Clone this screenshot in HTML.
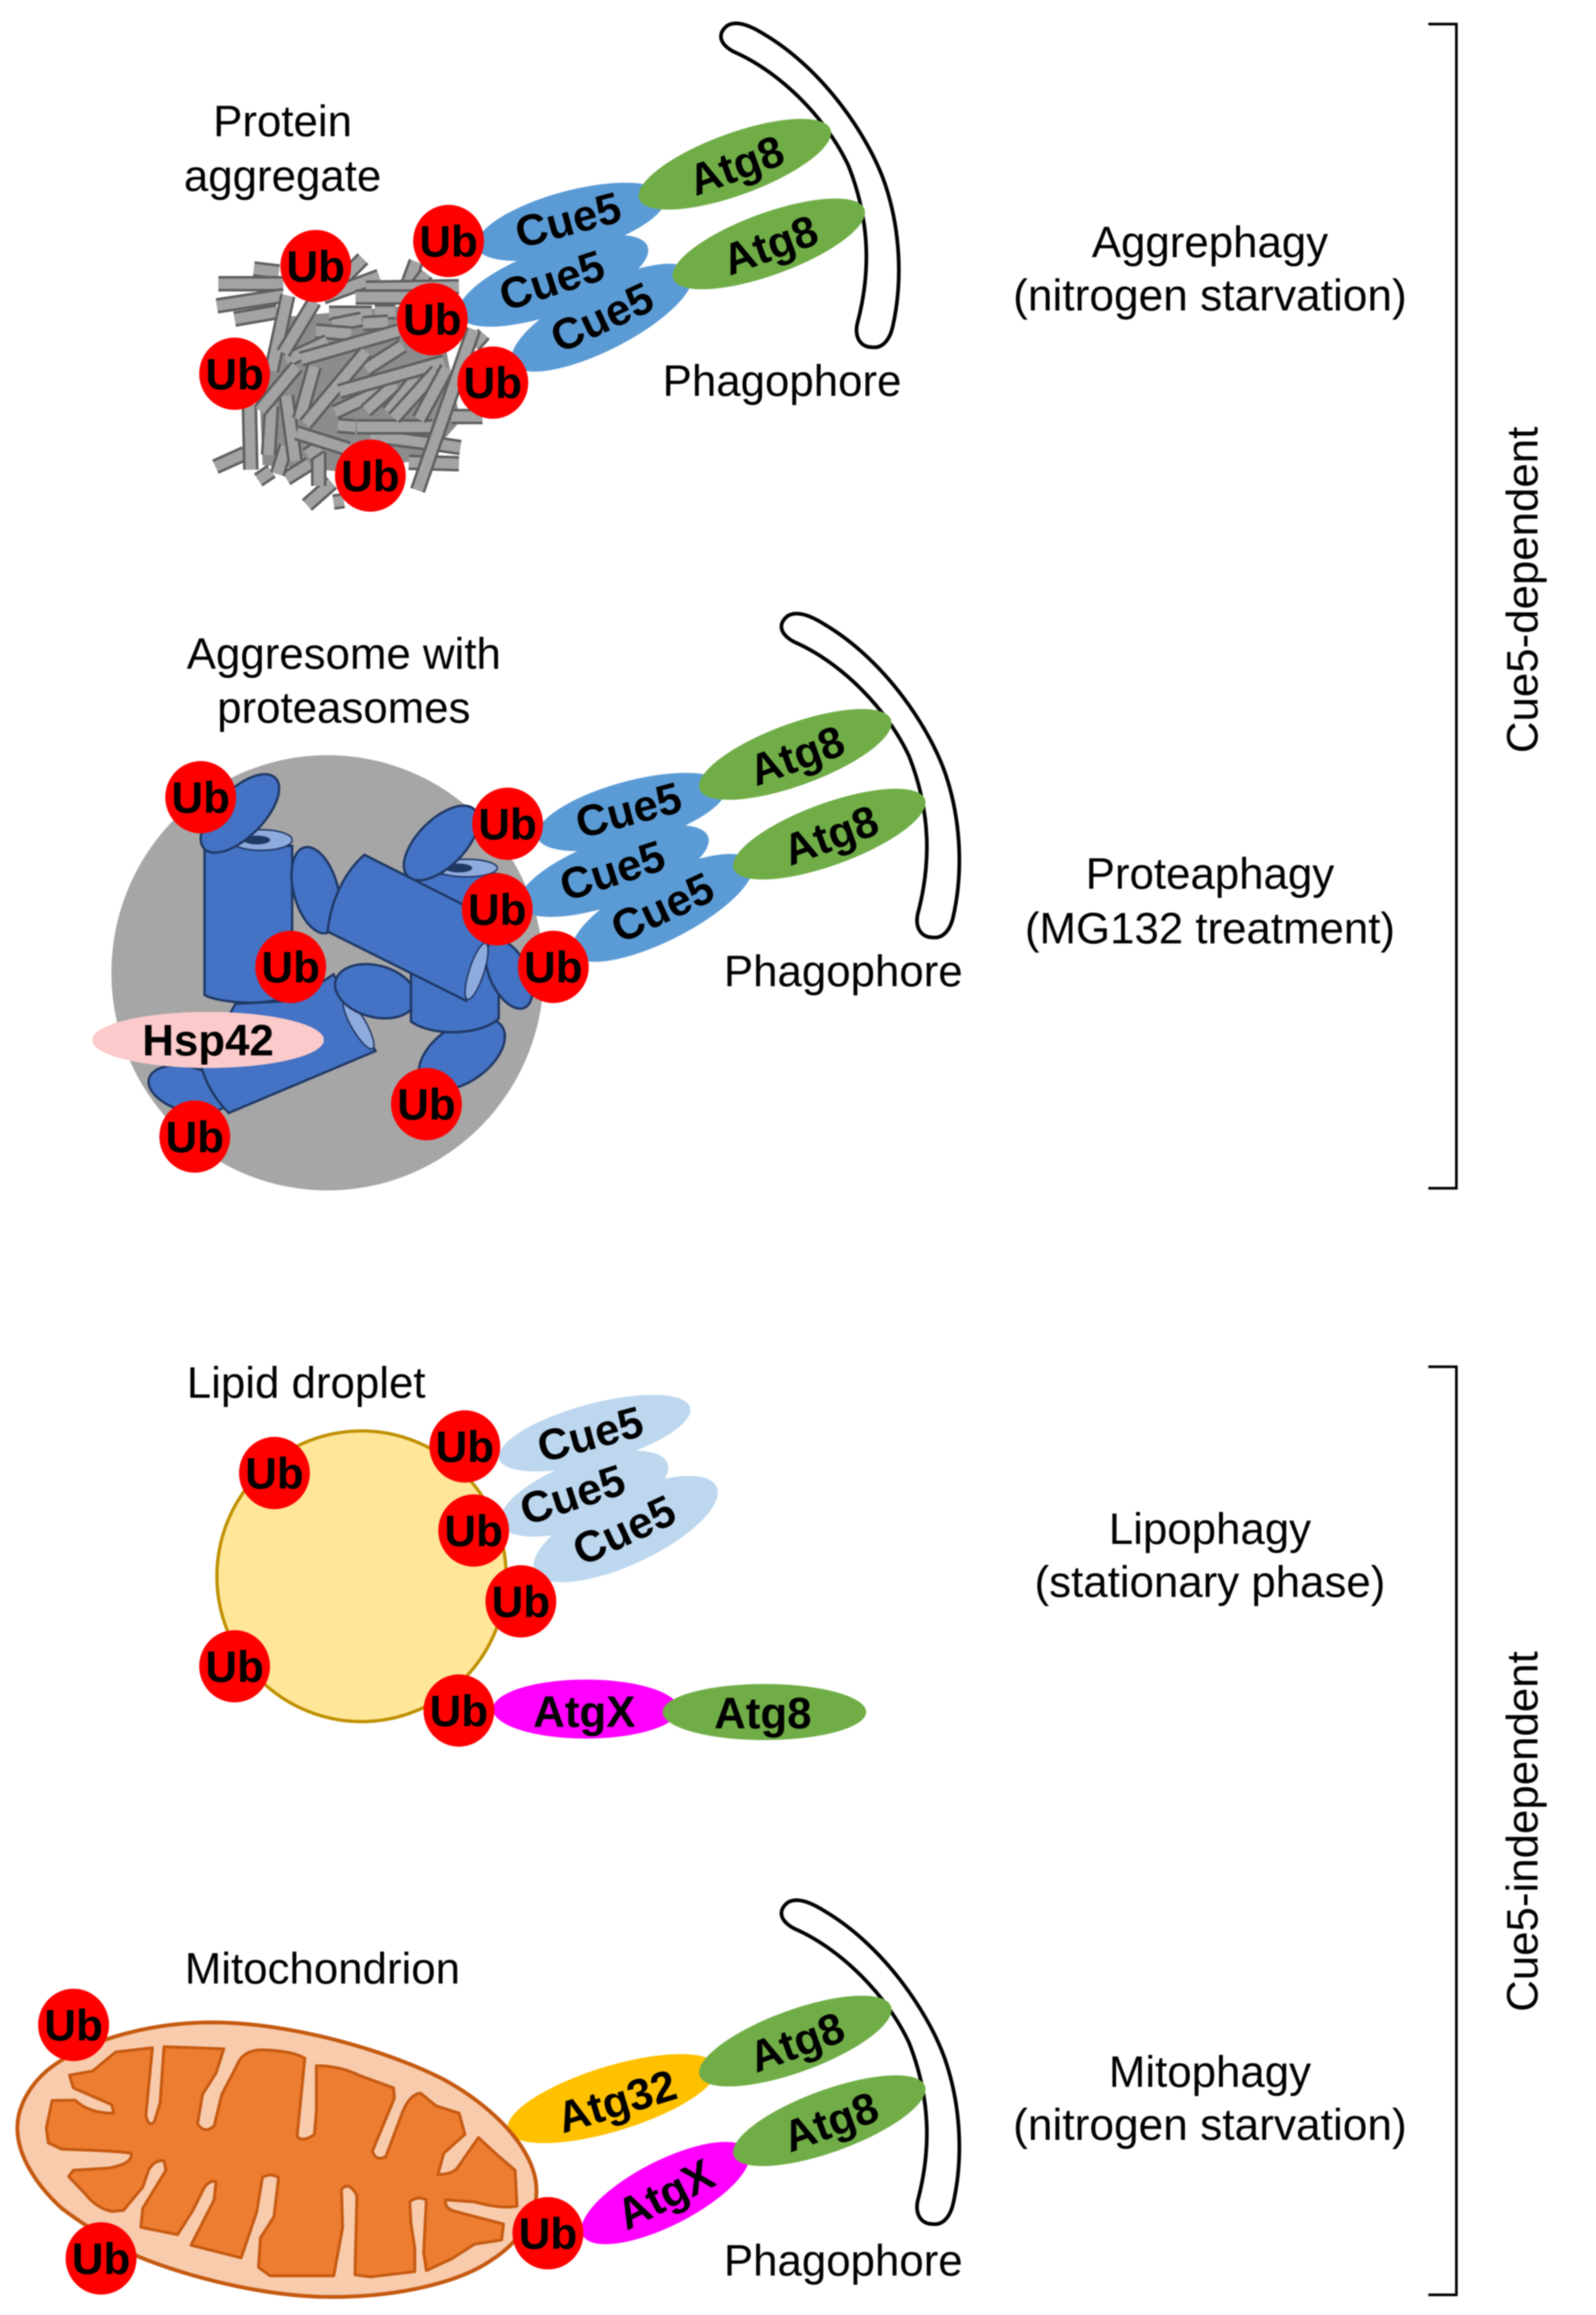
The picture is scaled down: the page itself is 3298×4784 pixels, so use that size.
<!DOCTYPE html>
<html><head><meta charset="utf-8"><title>Cue5-dependent and independent autophagy</title>
<style>
html,body{margin:0;padding:0;background:#fff}
svg{display:block;filter:blur(1.2px)}
text{font-family:"Liberation Sans",sans-serif;font-size:29.7px;fill:#000;text-anchor:middle}
.b{font-weight:bold}
.w{font-size:30px}
.ub{fill:#f00}
.c{fill:#5b9bd5}.l{fill:#bdd7ee}.g{fill:#70ad47}.m{fill:#f0f}
.ph{fill:#fff;stroke:#000;stroke-width:2.5}
.o{fill:none;stroke:#5f5f5f;stroke-width:10.5}
.i{fill:none;stroke:#a3a3a3;stroke-width:7}
.p{fill:#4472c4;stroke:#1f3864;stroke-width:1.6}
.e{fill:#8faadc;stroke:#1f3864;stroke-width:1}
</style></head><body>
<svg xmlns="http://www.w3.org/2000/svg" width="3298" height="4784" viewBox="0 0 1080 1566">
<rect width="1080" height="1566" fill="#fff"/>
<g transform="scale(.9985)">

<path d="M968,16H987V805H968M968,926H987V1555H968" fill="none" stroke="#000" stroke-width="1.8"/>
<text transform="translate(1032,399.5) rotate(-90)" y="10">Cue5-dependent</text>
<text transform="translate(1032,1241) rotate(-90)" y="10">Cue5-independent</text>

<text x="820" y="174">Aggrephagy</text><text class="w" x="820" y="210">(nitrogen starvation)</text>
<text x="820" y="602">Proteaphagy</text><text x="820" y="639">(MG132 treatment)</text>
<text x="820" y="1046">Lipophagy</text><text x="820" y="1082">(stationary phase)</text>
<text x="820" y="1414">Mitophagy</text><text class="w" x="820" y="1450">(nitrogen starvation)</text>

<!-- GROUP 1 -->
<text x="191.5" y="92">Protein</text><text x="191.5" y="129">aggregate</text>
<text x="530" y="268">Phagophore</text>
<path class="ph" d="M493,17C500,13 510,18 518,23C560,48 590,95 600,125C610,155 612,190 605,221C603,230 598,236 591,235C583,235 579,228 581,219C590,185 590,150 575,112C560,80 530,50 500,36C490,32 484,24 493,17Z"/>

<polygon points="188,215 296,205 312,285 290,310 240,320 178,315 176,270" fill="#8c8c8c"/>
<path class="o" d="M172,182L189,184"/><path class="i" d="M172,182L189,184"/>
<path class="o" d="M148,192L192,192"/><path class="i" d="M148,192L192,192"/>
<path class="o" d="M147,207L192,200"/><path class="i" d="M147,207L192,200"/>
<path class="o" d="M159,216L188,211"/><path class="i" d="M159,216L188,211"/>
<path class="o" d="M246,175L225,196"/><path class="i" d="M246,175L225,196"/>
<path class="o" d="M257,187L219,201"/><path class="i" d="M257,187L219,201"/>
<path class="o" d="M282,177L275,196"/><path class="i" d="M282,177L275,196"/>
<path class="o" d="M289,185L279,198"/><path class="i" d="M289,185L279,198"/>
<path class="o" d="M248,195L311,194"/><path class="i" d="M248,195L311,194"/>
<path class="o" d="M241,201L292,201"/><path class="i" d="M241,201L292,201"/>
<path class="o" d="M223,212L252,212"/><path class="i" d="M223,212L252,212"/>
<path class="o" d="M254,211L268,211"/><path class="i" d="M254,211L268,211"/>
<path class="o" d="M246,219L263,218"/><path class="i" d="M246,219L263,218"/>
<path class="o" d="M225,220L245,216"/><path class="i" d="M225,220L245,216"/>
<path class="o" d="M214,224L238,226"/><path class="i" d="M214,224L238,226"/>
<path class="o" d="M327,282L306,282"/><path class="i" d="M327,282L306,282"/>
<path class="o" d="M328,226L321,234"/><path class="i" d="M328,226L321,234"/>
<path class="o" d="M292,300L312,303"/><path class="i" d="M292,300L312,303"/>
<path class="o" d="M277,313L311,314"/><path class="i" d="M277,313L311,314"/>
<path class="o" d="M146,316L166,307"/><path class="i" d="M146,316L166,307"/>
<path class="o" d="M175,325L184,319"/><path class="i" d="M175,325L184,319"/>
<path class="o" d="M194,324L210,314"/><path class="i" d="M194,324L210,314"/>
<path class="o" d="M226,340L233,339"/><path class="i" d="M226,340L233,339"/>
<path class="o" d="M208,342L225,327"/><path class="i" d="M208,342L225,327"/>
<path class="o" d="M216,306L216,329"/><path class="i" d="M216,306L216,329"/>
<path class="o" d="M208,308L217,302"/><path class="i" d="M208,308L217,302"/>
<path class="o" d="M169,274L170,318"/><path class="i" d="M169,274L170,318"/>
<path class="o" d="M184,275L182,308"/><path class="i" d="M184,275L182,308"/>
<path class="o" d="M194,302L188,321"/><path class="i" d="M194,302L188,321"/>
<path class="o" d="M194,268L200,312"/><path class="i" d="M194,268L200,312"/>
<path class="o" d="M229,288L241,289"/><path class="i" d="M229,288L241,289"/>
<path class="o" d="M251,295L290,300"/><path class="i" d="M251,295L290,300"/>
<path class="o" d="M242,289L293,289"/><path class="i" d="M242,289L293,289"/>
<path class="o" d="M201,293L236,304"/><path class="i" d="M201,293L236,304"/>
<path class="o" d="M194,244L222,231"/><path class="i" d="M194,244L222,231"/>
<path class="o" d="M273,234L248,250"/><path class="i" d="M273,234L248,250"/>
<path class="o" d="M204,243L270,224"/><path class="i" d="M204,243L270,224"/>
<path class="o" d="M213,248L203,284"/><path class="i" d="M213,248L203,284"/>
<path class="o" d="M248,238L207,287"/><path class="i" d="M248,238L207,287"/>
<path class="o" d="M257,265L227,279"/><path class="i" d="M257,265L227,279"/>
<path class="o" d="M268,260L248,278"/><path class="i" d="M268,260L248,278"/>
<path class="o" d="M282,256L263,279"/><path class="i" d="M282,256L263,279"/>
<path class="o" d="M301,245L230,265"/><path class="i" d="M301,245L230,265"/>
<path class="o" d="M296,251L267,283"/><path class="i" d="M296,251L267,283"/>
<path class="o" d="M303,249L284,284"/><path class="i" d="M303,249L284,284"/>
<path class="o" d="M195,200L184,251"/><path class="i" d="M195,200L184,251"/>
<path class="o" d="M213,204L192,239"/><path class="i" d="M213,204L192,239"/>
<path class="o" d="M201,248L176,278"/><path class="i" d="M201,248L176,278"/>
<path class="o" d="M321,223L283,332"/><path class="i" d="M321,223L283,332"/>

<ellipse class="c" cx="387" cy="150" rx="66" ry="21" transform="rotate(-15 387 150)"/>
<ellipse class="c" cx="375" cy="190" rx="68" ry="22" transform="rotate(-20 375 190)"/>
<ellipse class="c" cx="408" cy="215" rx="68" ry="22" transform="rotate(-27 408 215)"/>
<ellipse class="g" cx="498" cy="111" rx="69" ry="21" transform="rotate(-20 498 111)"/>
<ellipse class="g" cx="521" cy="165" rx="69" ry="21" transform="rotate(-20 521 165)"/>
<text class="b" transform="translate(385,149) rotate(-15)" y="10">Cue5</text>
<text class="b" transform="translate(374,190) rotate(-18)" y="10">Cue5</text>
<text class="b" transform="translate(408,215) rotate(-25)" y="10">Cue5</text>
<text class="b" transform="translate(499,112) rotate(-20)" y="10">Atg8</text>
<text class="b" transform="translate(522,166) rotate(-20)" y="10">Atg8</text>
<ellipse class="ub" cx="214" cy="180" rx="24" ry="24.5"/><text class="b" x="214" y="190.5">Ub</text>
<ellipse class="ub" cx="159" cy="253" rx="24" ry="24.5"/><text class="b" x="159" y="263.5">Ub</text>
<ellipse class="ub" cx="304" cy="163" rx="24" ry="24.5"/><text class="b" x="304" y="173.5">Ub</text>
<ellipse class="ub" cx="293" cy="216" rx="24" ry="24.5"/><text class="b" x="293" y="226.5">Ub</text>
<ellipse class="ub" cx="334" cy="259" rx="24" ry="24.5"/><text class="b" x="334" y="269.5">Ub</text>
<ellipse class="ub" cx="251" cy="322" rx="24" ry="24.5"/><text class="b" x="251" y="332.5">Ub</text>

<!-- GROUP 2 -->
<text x="233" y="453">Aggresome with</text><text x="233" y="489.5">proteasomes</text>
<text x="571.5" y="668">Phagophore</text>
<path class="ph" transform="translate(41,400)" d="M493,17C500,13 510,18 518,23C560,48 590,95 600,125C610,155 612,190 605,221C603,230 598,236 591,235C583,235 579,228 581,219C590,185 590,150 575,112C560,80 530,50 500,36C490,32 484,24 493,17Z"/>
<ellipse cx="222" cy="659" rx="146.5" ry="147.5" fill="#a6a6a6"/>

<ellipse class="p" cx="313" cy="714" rx="33" ry="19" transform="rotate(-35 313 714)"/>
<ellipse class="p" cx="128" cy="738" rx="28" ry="15" transform="rotate(15 128 738)"/>
<path class="p" d="M226,660L254.5,712L155,754C146,745 140,735 136.5,723L159.5,680L199,678Z"/>
<ellipse class="e" cx="243" cy="694" rx="19" ry="5" transform="rotate(60 243 694)"/>
<ellipse class="p" cx="254.5" cy="671.5" rx="28" ry="17.5" transform="rotate(15 254.5 671.5)"/>
<path class="p" d="M278.5,592H338V690C325,702 292,702 278.5,692Z"/>
<ellipse class="p" cx="345" cy="660" rx="25" ry="13" transform="rotate(65 345 660)"/>
<path class="p" d="M138.6,573H198V668C198,684 148,680 138.6,674Z"/>
<ellipse class="e" cx="177" cy="569" rx="21" ry="7"/>
<ellipse cx="174" cy="569" rx="9" ry="3" fill="#1f3864"/>
<ellipse class="p" cx="162.6" cy="551" rx="34" ry="16" transform="rotate(-45 162.6 551)"/>
<ellipse class="p" cx="214" cy="603" rx="30" ry="15" transform="rotate(75 214 603)"/>
<ellipse class="e" cx="316" cy="588" rx="21" ry="6"/>
<ellipse cx="311" cy="588" rx="9" ry="3" fill="#1f3864"/>
<ellipse class="p" cx="299" cy="571" rx="32" ry="16" transform="rotate(-45 299 571)"/>
<path class="p" d="M247,579L332,622L328,640L316,678L222,631C224,612 232,592 247,579Z"/>
<ellipse class="e" cx="323" cy="658" rx="20" ry="5" transform="rotate(-72 323 658)"/>

<ellipse cx="141" cy="704.5" rx="78.5" ry="19" fill="#fbcaca"/>
<text class="b" x="141" y="715">Hsp42</text>

<ellipse class="c" cx="428" cy="550" rx="66" ry="21" transform="rotate(-15 428 550)"/>
<ellipse class="c" cx="416" cy="590" rx="68" ry="22" transform="rotate(-20 416 590)"/>
<ellipse class="c" cx="449" cy="615" rx="68" ry="22" transform="rotate(-27 449 615)"/>
<ellipse class="g" cx="539" cy="511" rx="69" ry="21" transform="rotate(-20 539 511)"/>
<ellipse class="g" cx="562" cy="565" rx="69" ry="21" transform="rotate(-20 562 565)"/>
<text class="b" transform="translate(426,549) rotate(-15)" y="10">Cue5</text>
<text class="b" transform="translate(415,590) rotate(-18)" y="10">Cue5</text>
<text class="b" transform="translate(449,615) rotate(-25)" y="10">Cue5</text>
<text class="b" transform="translate(540,512) rotate(-20)" y="10">Atg8</text>
<text class="b" transform="translate(563,566) rotate(-20)" y="10">Atg8</text>
<ellipse class="ub" cx="136" cy="540" rx="24" ry="24.5"/><text class="b" x="136" y="550.5">Ub</text>
<ellipse class="ub" cx="344" cy="558" rx="24" ry="24.5"/><text class="b" x="344" y="568.5">Ub</text>
<ellipse class="ub" cx="337" cy="616" rx="24" ry="24.5"/><text class="b" x="337" y="626.5">Ub</text>
<ellipse class="ub" cx="375" cy="655" rx="24" ry="24.5"/><text class="b" x="375" y="665.5">Ub</text>
<ellipse class="ub" cx="197" cy="655" rx="24" ry="24.5"/><text class="b" x="197" y="665.5">Ub</text>
<ellipse class="ub" cx="289" cy="748" rx="24" ry="24.5"/><text class="b" x="289" y="758.5">Ub</text>
<ellipse class="ub" cx="132" cy="770" rx="24" ry="24.5"/><text class="b" x="132" y="780.5">Ub</text>

<!-- GROUP 3 lipid -->
<text x="207.5" y="947">Lipid droplet</text>
<ellipse cx="245" cy="1068" rx="98" ry="98.5" fill="#ffe699" stroke="#bf9000" stroke-width="2.2"/>
<ellipse class="l" cx="403" cy="971" rx="67" ry="20" transform="rotate(-15 403 971)"/>
<ellipse class="l" cx="396" cy="1012" rx="60" ry="22" transform="rotate(-20 396 1012)"/>
<ellipse class="l" cx="424" cy="1036" rx="68" ry="24" transform="rotate(-25 424 1036)"/>
<text class="b" transform="translate(400,972) rotate(-15)" y="10">Cue5</text>
<text class="b" transform="translate(388,1013) rotate(-18)" y="10">Cue5</text>
<text class="b" transform="translate(423,1037) rotate(-25)" y="10">Cue5</text>
<ellipse class="m" cx="397" cy="1158" rx="63" ry="20"/>
<ellipse class="g" cx="518" cy="1160" rx="69" ry="19"/>
<text class="b" x="396" y="1170">AtgX</text>
<text class="b" x="517" y="1171">Atg8</text>
<ellipse class="ub" cx="186" cy="998" rx="24" ry="24.5"/><text class="b" x="186" y="1008.5">Ub</text>
<ellipse class="ub" cx="315" cy="980" rx="24" ry="24.5"/><text class="b" x="315" y="990.5">Ub</text>
<ellipse class="ub" cx="321" cy="1037" rx="24" ry="24.5"/><text class="b" x="321" y="1047.5">Ub</text>
<ellipse class="ub" cx="353" cy="1085" rx="24" ry="24.5"/><text class="b" x="353" y="1095.5">Ub</text>
<ellipse class="ub" cx="159" cy="1129" rx="24" ry="24.5"/><text class="b" x="159" y="1139.5">Ub</text>
<ellipse class="ub" cx="311" cy="1159" rx="24" ry="24.5"/><text class="b" x="311" y="1169.5">Ub</text>

<!-- GROUP 4 right side -->
<text x="218.5" y="1344">Mitochondrion</text>
<text x="571.5" y="1542">Phagophore</text>
<path class="ph" transform="translate(41,1272)" d="M493,17C500,13 510,18 518,23C560,48 590,95 600,125C610,155 612,190 605,221C603,230 598,236 591,235C583,235 579,228 581,219C590,185 590,150 575,112C560,80 530,50 500,36C490,32 484,24 493,17Z"/>
<ellipse style="fill:#ffc000" cx="415" cy="1422" rx="74" ry="22" transform="rotate(-17 415 1422)"/>
<ellipse class="m" cx="451" cy="1486" rx="63" ry="22" transform="rotate(-27 451 1486)"/>
<ellipse class="g" cx="539" cy="1383" rx="69" ry="21" transform="rotate(-20 539 1383)"/>
<ellipse class="g" cx="562" cy="1437" rx="69" ry="21" transform="rotate(-20 562 1437)"/>
<text class="b" transform="translate(418,1424) rotate(-17)" y="10">Atg32</text>
<text class="b" transform="translate(451,1487) rotate(-27)" y="10">AtgX</text>
<text class="b" transform="translate(540,1384) rotate(-20)" y="10">Atg8</text>
<text class="b" transform="translate(563,1438) rotate(-20)" y="10">Atg8</text>
</g>

<!-- mitochondrion: real coordinates -->
<g transform="translate(0,1342.6) scale(.2611,.1429)">
<path fill="#f8cbad" stroke="#c55a11" stroke-width="8" vector-effect="non-scaling-stroke" d="M550,180C750,180 1000,310 1150,450C1280,580 1385,780 1390,960C1395,1100 1340,1230 1270,1310C1180,1420 1020,1480 860,1480C680,1480 480,1380 360,1290C280,1210 210,1130 160,1060C100,960 45,820 45,680C45,560 90,440 150,370C250,250 400,180 550,180Z"/>
<path fill="#ed7d31" stroke="#c55a11" stroke-width="6" vector-effect="non-scaling-stroke" stroke-linejoin="round" d="M180,430L240,410L300,320L395,300L378,620Q385,680 400,650L415,560L425,295L580,305L560,420L525,520L512,660Q530,710 555,670L575,520L615,380Q630,310 680,310Q760,315 790,350L770,720Q785,750 815,710L820,600L820,385Q880,385 930,430L1020,490L1022,540L965,790Q975,840 1000,815L1040,620Q1060,520 1090,515L1130,575L1190,610L1205,710L1150,800L1135,900Q1170,900 1185,870L1240,725L1290,810L1335,880L1340,1050Q1300,1065 1230,1030L1155,1020Q1150,1060 1180,1075L1305,1135L1300,1210L1230,1230L1170,1300L1105,1355L1098,1270L1105,1020Q1080,1000 1062,1030L1065,1130L1075,1250L1075,1360L960,1385L920,1375L925,1000Q905,930 885,970L888,1150L865,1380L700,1380L670,1340L675,1200L710,1100L722,915Q700,890 680,915L665,1080L625,1295L495,1235L555,1020L560,935Q545,925 530,960L500,1070L460,1185L365,1150L370,1060L430,880L425,835Q400,830 385,880L370,960L320,1070L290,1075Q250,1060 220,990L178,910L190,880L280,870Q345,850 340,800Q320,790 160,780L125,750L120,680L135,550L195,548Q230,610 295,610L290,570L190,490Z"/>
</g>
<ellipse class="ub" cx="370.8" cy="1511" rx="24" ry="24.5"/><text class="b" x="370.8" y="1521.5">Ub</text>
<ellipse class="ub" cx="49.8" cy="1370" rx="24" ry="24.5"/><text class="b" x="49.8" y="1380.5">Ub</text>
<ellipse class="ub" cx="68.4" cy="1528" rx="24" ry="24.5"/><text class="b" x="68.4" y="1538.5">Ub</text>
</svg>
</body></html>
